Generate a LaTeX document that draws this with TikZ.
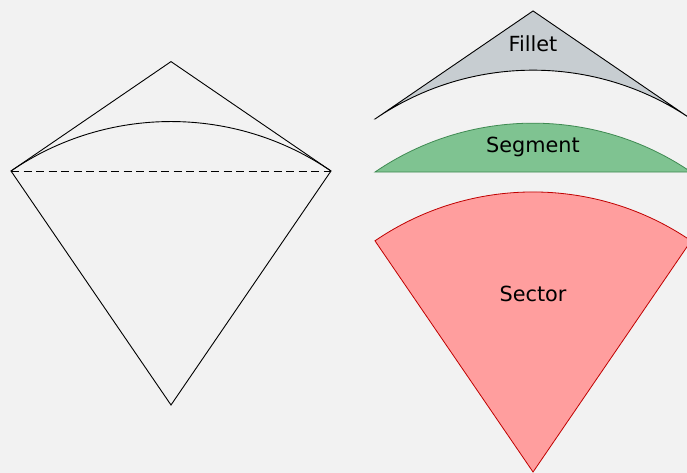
\documentclass[tikz,border=0pt]{standalone}
\usepackage{fontspec}
\setmainfont{DejaVu Sans}
\definecolor{paper}{HTML}{F2F2F2}
\definecolor{filletfill}{HTML}{C7CDD1}
\definecolor{segfill}{HTML}{7FC391}
\definecolor{segline}{HTML}{3F8A52}
\definecolor{secfill}{HTML}{FF9E9E}
\definecolor{secline}{HTML}{C00000}
\begin{document}
\begin{tikzpicture}[x=1pt,y=1pt,line join=miter,
  edge/.style={draw=black,line width=0.9pt},
  chord/.style={draw=black,line width=0.9pt,dash pattern=on 8pt off 4.5pt},
  filletshape/.style={fill=filletfill,draw=black,line width=0.9pt},
  segshape/.style={fill=segfill,draw=segline,line width=0.8pt},
  secshape/.style={fill=secfill,draw=secline,line width=0.8pt},
  caption/.style={font=\fontsize{20.8}{24}\selectfont,anchor=base,inner sep=0pt}]
\useasboundingbox (0,0) rectangle (687,473);
\fill[paper] (0,0) rectangle (687,473);
\clip (0,0) rectangle (687,473);
% arc about the lower vertex: radius and end angles
\def\rad{283.47}
\def\aL{124.36}
\def\aR{55.64}
% construction: tangents, radii, arc and chord
\coordinate (kB) at (171,68);
\coordinate (kL) at (11,302);
\coordinate (kR) at (331,302);
\coordinate (kT) at (171,411.4);
\draw[edge] (kT) -- (kL) -- (kB) -- (kR) -- cycle;
\draw[edge] (kL) arc[start angle=\aL,end angle=\aR,radius=\rad];
\draw[chord] (kL) -- (kR);
% fillet
\begin{scope}[shift={(364.1,55.6)},scale=0.988]
\coordinate (fL) at (11,302);
\coordinate (fR) at (331,302);
\coordinate (fT) at (171,411.4);
\path[filletshape] (fL) -- (fT) -- (fR) arc[start angle=\aR,end angle=\aL,radius=\rad] -- cycle;
\end{scope}
% segment
\begin{scope}[shift={(364.1,2.6)},scale=0.988]
\coordinate (sL) at (11,302);
\path[segshape] (sL) arc[start angle=\aL,end angle=\aR,radius=\rad] -- cycle;
\end{scope}
% sector
\begin{scope}[shift={(364.1,-66.2)},scale=0.988]
\coordinate (xB) at (171,68);
\coordinate (xL) at (11,302);
\path[secshape] (xB) -- (xL) arc[start angle=\aL,end angle=\aR,radius=\rad] -- cycle;
\end{scope}
% labels
\node[caption] (tFillet) at (533,421) {Fillet};
\node[caption] (tSegment) at (533,320) {Segment};
\node[caption] (tSector) at (533,171) {Sector};
\end{tikzpicture}
\end{document}
